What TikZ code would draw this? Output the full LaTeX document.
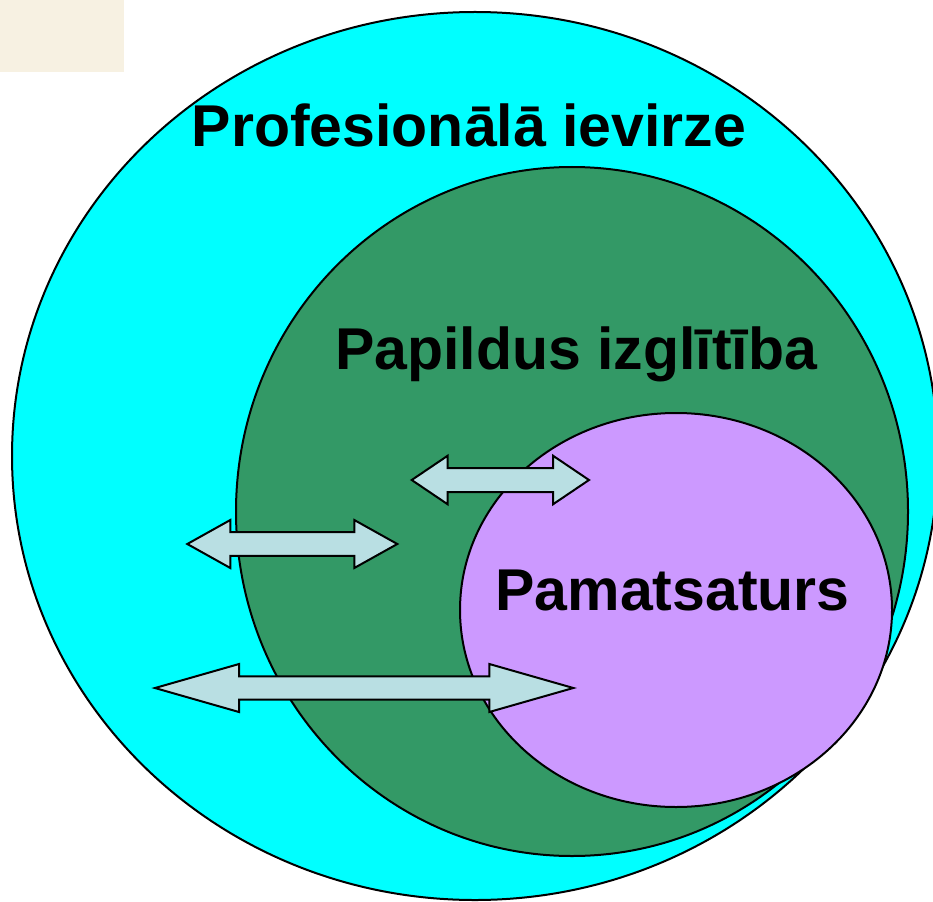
\documentclass[tikz,border=0pt]{standalone}
\usepackage{fontspec}
\setmainfont{Liberation Sans}
\definecolor{cyanf}{HTML}{00FFFF}
\definecolor{greenf}{HTML}{339966}
\definecolor{purplef}{HTML}{CC99FF}
\definecolor{arrowf}{HTML}{B9DFE3}
\definecolor{beige}{HTML}{F7F1E2}
\newcommand\dblarrow[6]{% left tip x, right tip x, y, head length, shaft half, head half
  \filldraw[arrowshape] (#1,#3) -- (#1+#4,#3-#6) -- (#1+#4,#3-#5) -- (#2-#4,#3-#5) -- (#2-#4,#3-#6)
    -- (#2,#3) -- (#2-#4,#3+#6) -- (#2-#4,#3+#5) -- (#1+#4,#3+#5) -- (#1+#4,#3+#6) -- cycle;}
\begin{document}
\begin{tikzpicture}[x=1pt,y=-1pt,
  region/.style={draw=black,line width=2pt},
  arrowshape/.style={draw=black,fill=arrowf,line width=2pt,line join=miter},
  label/.style={anchor=base,inner sep=0pt,font=\fontsize{59}{59}\selectfont\bfseries}]
\useasboundingbox (0,0) rectangle (933,901);
\fill[beige] (0,0) rectangle (124,72);
\begin{scope}
\clip (0,0) rectangle (933,901);
\filldraw[region,fill=cyanf] (475,456) ellipse [x radius=463,y radius=444];
\end{scope}
\filldraw[region,fill=greenf] (572,511.5) ellipse [x radius=336,y radius=344.5];
\filldraw[region,fill=purplef] (676,610) ellipse [x radius=216,y radius=197];
\dblarrow{411.7}{589}{480}{36}{12}{24.3}
\dblarrow{187.3}{397.3}{544}{43}{11.8}{24}
\dblarrow{155}{573.3}{688}{84}{11.7}{24}
\node[label] (prof) at (469,147) {Profesionālā ievirze};
\node[label] (pap) at (576,369) {Papildus izglītība};
\node[label] (pam) at (672.5,610) {Pamatsaturs};
\end{tikzpicture}
\end{document}
